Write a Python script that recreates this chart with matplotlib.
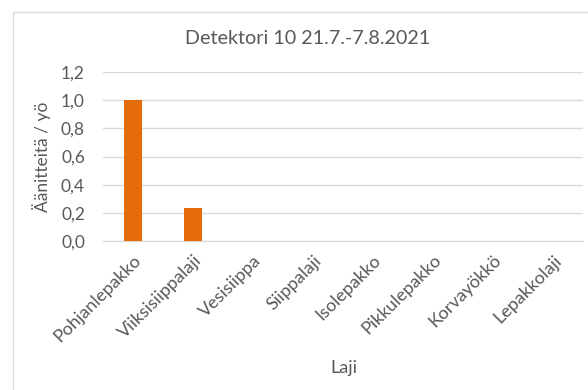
import matplotlib
matplotlib.use("Agg")
import matplotlib.pyplot as plt
from matplotlib.patches import Rectangle

species = ["Pohjanlepakko", "Viiksisiippalaji", "Vesisiippa", "Siippalaji",
           "Isolepakko", "Pikkulepakko", "Korvayökkö", "Lepakkolaji"]
recordings_per_night = [1.0, 0.235, 0, 0, 0, 0, 0, 0]
y_ticks = [0.0, 0.2, 0.4, 0.6, 0.8, 1.0, 1.2]
y_tick_labels = ["0,0", "0,2", "0,4", "0,6", "0,8", "1,0", "1,2"]

TEXT = "#595959"
GRID = "#d9d9d9"
BAR = "#e46c0a"

plt.rcParams["font.family"] = ["Lato", "DejaVu Sans"]

fig = plt.figure(figsize=(5.88, 3.9), dpi=100, facecolor="white")

# chart area frame
fig.patches.append(Rectangle((13 / 588, -0.1), 1.1, 1 - 12 / 390 + 0.1,
                             transform=fig.transFigure, fill=False,
                             edgecolor=GRID, linewidth=1.0))

ax = fig.add_axes([103 / 588, 1 - 241 / 390, 480 / 588, 169 / 390])
x = range(len(species))
ax.bar(x, recordings_per_night, width=0.3, color=BAR, zorder=3)

ax.set_xlim(-0.5, len(species) - 0.5)
ax.set_ylim(0, 1.2)
ax.set_yticks(y_ticks)
ax.set_yticklabels(y_tick_labels)
ax.yaxis.grid(True, color=GRID, linewidth=1.0, zorder=0)
for side in ["top", "right", "left"]:
    ax.spines[side].set_visible(False)
ax.spines["bottom"].set_color(GRID)
ax.tick_params(axis="both", length=0, colors=TEXT)
ax.tick_params(axis="y", pad=13, labelsize=12.5)
ax.tick_params(axis="x", pad=8, labelsize=13)

ax.set_xticks(list(x))
ax.set_xticklabels(species, rotation=45, ha="right", rotation_mode="anchor")

ax.set_ylabel("Äänitteitä / yö", color=TEXT, fontsize=12.5, labelpad=7)
fig.text(344 / 588, 1 - 368 / 390, "Laji", color=TEXT, fontsize=13,
         ha="center", va="center")
fig.text(308 / 588, 1 - 38 / 390, "Detektori 10 21.7.-7.8.2021", color=TEXT,
         fontsize=14.2, ha="center", va="center")

fig.savefig("out.png", dpi=100, facecolor="white")
